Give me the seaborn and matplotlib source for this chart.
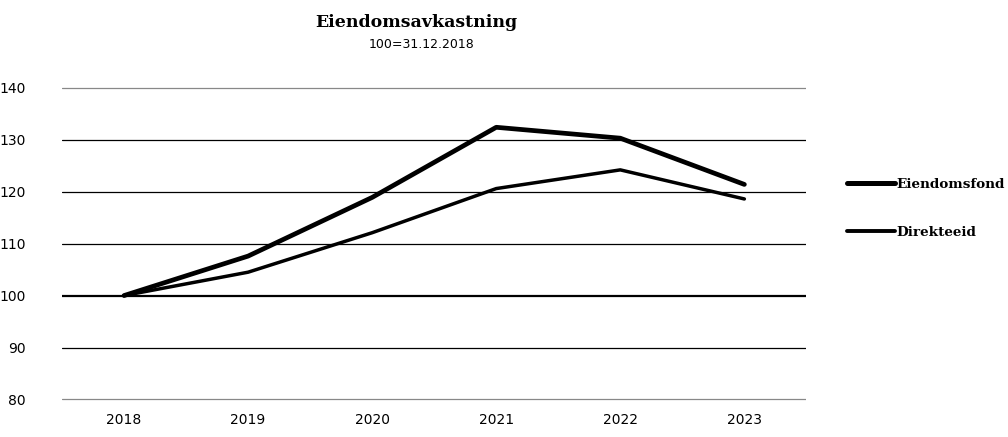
import pandas as pd
import matplotlib.pyplot as plt
import seaborn as sns

years = ["2018", "2019", "2020", "2021", "2022", "2023"]
eiendomsfond = [100.0, 107.6, 118.9, 132.4, 130.3, 121.4]
direkteeid = [100.0, 104.5, 112.1, 120.6, 124.2, 118.6]
series_names = ["Eiendomsfond", "Direkteeid"]
y_ticks = [80, 90, 100, 110, 120, 130, 140]

df = pd.DataFrame({
    "aar": years * 2,
    "verdi": eiendomsfond + direkteeid,
    "serie": [series_names[0]] * len(years) + [series_names[1]] * len(years),
})

sns.set_style("white")
plt.rcParams['font.family'] = ['Liberation Sans Narrow', 'DejaVu Sans']
plt.rcParams['text.color'] = 'black'

fig = plt.figure(figsize=(10.08, 4.37), dpi=100)
ax = fig.add_axes([0.0615, 0.08, 0.7385, 0.725])

# rutenett
for v in y_ticks:
    farge = "#888888" if v in (80, 140) else "black"
    lw = 1.6 if v == 100 else 0.9
    ax.axhline(v, color=farge, lw=lw, zorder=0)

sns.lineplot(data=df, x="aar", y="verdi", hue="serie", size="serie",
             sizes={"Eiendomsfond": 3.4, "Direkteeid": 2.5},
             palette={"Eiendomsfond": "black", "Direkteeid": "black"},
             sort=False, ax=ax, legend=False)
for ln in ax.lines[-2:]:
    ln.set_solid_capstyle("round")
    ln.set_solid_joinstyle("round")

ax.set_xlim(-0.5, len(years) - 0.5)
ax.set_ylim(79.5, 140.5)
ax.set_yticks(y_ticks)
ax.set_xlabel("")
ax.set_ylabel("")
ax.tick_params(length=0, labelsize=10, colors="black")
ax.tick_params(axis="y", pad=26)
ax.tick_params(axis="x", pad=8)
for s in ax.spines.values():
    s.set_visible(False)

# forklaring
handles = [plt.Line2D([], [], color="black", lw=3.6, solid_capstyle="round"),
           plt.Line2D([], [], color="black", lw=2.8, solid_capstyle="round")]
leg = fig.legend(handles, series_names, loc="upper left", bbox_to_anchor=(0.828, 0.62),
                 frameon=False, handlelength=3.6, handletextpad=0.1, labelspacing=2.55,
                 prop={"family": "DejaVu Serif", "size": 9.7, "weight": "bold"})

fig.text(0.413, 0.948, "Eiendomsavkastning", ha="center", va="center",
         family="DejaVu Serif", fontsize=12.5, fontweight="bold")
fig.text(0.418, 0.898, "100=31.12.2018", ha="center", va="center", fontsize=9)

plt.savefig("out.png", dpi=100)
